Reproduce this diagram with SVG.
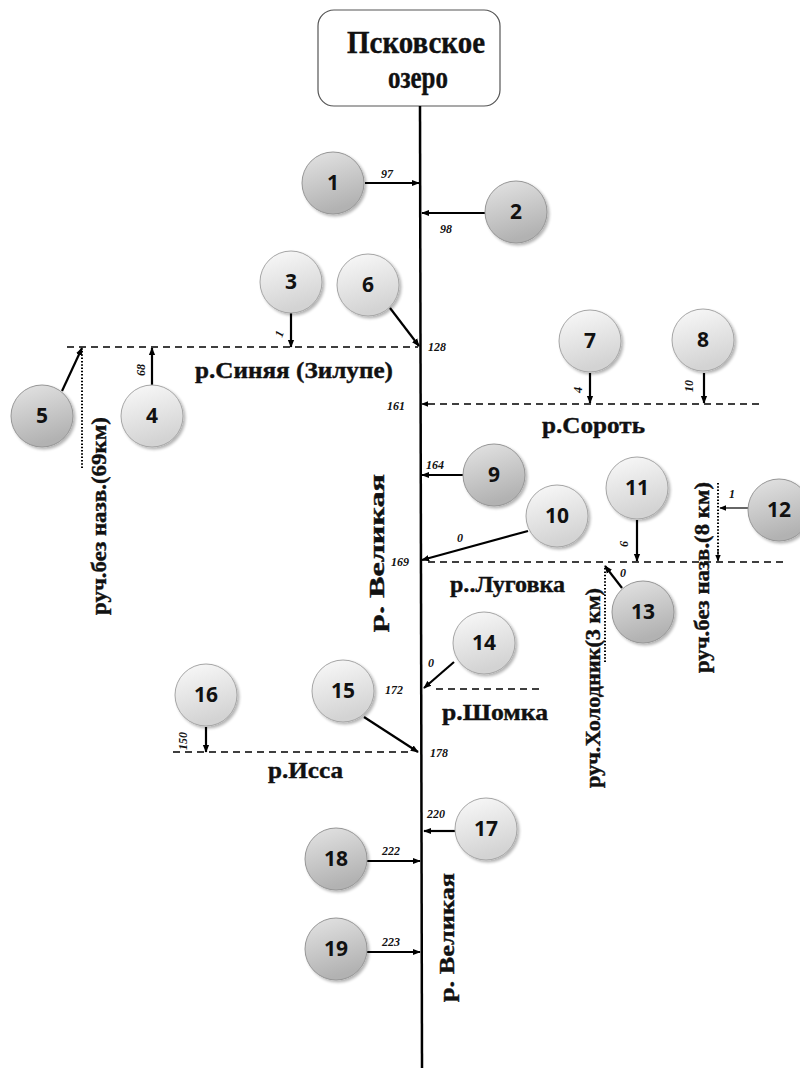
<svg xmlns="http://www.w3.org/2000/svg" width="800" height="1068" viewBox="0 0 800 1068">
  <defs>
    <linearGradient id="gLight" x1="0" y1="0" x2="0.3" y2="1">
      <stop offset="0" stop-color="#fafafa"/>
      <stop offset="1" stop-color="#d3d3d3"/>
    </linearGradient>
    <linearGradient id="gDark" x1="0" y1="0" x2="0.3" y2="1">
      <stop offset="0" stop-color="#e4e4e4"/>
      <stop offset="1" stop-color="#b2b2b2"/>
    </linearGradient>
    <filter id="shadow" x="-20%" y="-20%" width="150%" height="150%">
      <feGaussianBlur in="SourceAlpha" stdDeviation="1.5"/>
      <feOffset dx="1.5" dy="2" result="b"/>
      <feComponentTransfer><feFuncA type="linear" slope="0.3"/></feComponentTransfer>
      <feMerge><feMergeNode/><feMergeNode in="SourceGraphic"/></feMerge>
    </filter>
    <marker id="ah" viewBox="0 0 10 10" refX="9" refY="5" markerWidth="8" markerHeight="8" markerUnits="userSpaceOnUse" orient="auto">
      <path d="M0,1 L10,5 L0,9 Z" fill="#000"/>
    </marker>
    <marker id="ahs" viewBox="0 0 10 10" refX="9" refY="5" markerWidth="7" markerHeight="7" markerUnits="userSpaceOnUse" orient="auto">
      <path d="M0,1 L10,5 L0,9 Z" fill="#000"/>
    </marker>
  </defs>
  <style>
    .river { stroke: #000; stroke-width: 2.5; fill: none; }
    .arrow { stroke: #000; stroke-width: 2.2; fill: none; marker-end: url(#ah); }
    .thin { stroke: #000; stroke-width: 1.2; fill: none; marker-end: url(#ahs); }
    .dash { stroke: #000; stroke-width: 1.6; fill: none; stroke-dasharray: 7 5; }
    .dot { stroke: #000; stroke-width: 2; fill: none; stroke-dasharray: 1.5 1.8; }
    .light { fill: url(#gLight); stroke: #a5a5a5; stroke-width: 1; filter: url(#shadow); }
    .dark { fill: url(#gDark); stroke: #969696; stroke-width: 1; filter: url(#shadow); }
    .num { font-family: "Open Sans", "Liberation Sans", sans-serif; font-weight: 700; font-size: 21px; fill: #111; text-anchor: middle; }
    .km { font-family: "Liberation Serif", "Times New Roman", serif; font-style: italic; font-weight: 700; font-size: 12px; fill: #111; }
    .name { font-family: "Liberation Serif", "Times New Roman", serif; font-weight: 700; font-size: 24px; fill: #111; stroke: #111; stroke-width: 0.4; }
    .vname { font-family: "Liberation Serif", "Times New Roman", serif; font-weight: 700; font-size: 21px; fill: #111; stroke: #111; stroke-width: 0.4; }
    .title { font-family: "Liberation Serif", "Times New Roman", serif; font-weight: 700; font-size: 32px; fill: #111; stroke: #111; stroke-width: 0.4; }
  </style>

  <!-- lake at the mouth -->
  <g id="lake">
    <rect x="318" y="10" width="182" height="96" rx="16" fill="#fff" stroke="#555" stroke-width="1.2"/>
    <text class="title" x="347" y="53" textLength="138" lengthAdjust="spacingAndGlyphs">Псковское</text>
    <text class="title" x="388" y="88" textLength="60" lengthAdjust="spacingAndGlyphs">озеро</text>
  </g>

  <g id="connectors">
    <!-- main channel -->
    <line class="river" x1="420" y1="106" x2="422" y2="1068"/>
    <!-- tributary channels -->
    <line class="dash" x1="67" y1="347" x2="418" y2="347"/>
    <line class="dash" x1="428" y1="404" x2="762" y2="404"/>
    <line class="dash" x1="428" y1="562" x2="787" y2="562"/>
    <line class="dash" x1="436" y1="689" x2="543" y2="689"/>
    <line class="dash" x1="173" y1="752" x2="412" y2="752"/>
    <!-- streams -->
    <line class="dot" x1="82" y1="468" x2="82" y2="349"/>
    <line class="dot" x1="718" y1="483" x2="718" y2="560"/>
    <line class="dot" x1="605" y1="662" x2="605" y2="568"/>
    <!-- inflow arrows -->
    <line class="arrow" x1="365" y1="183" x2="419" y2="183"/>
    <line class="arrow" x1="485" y1="213" x2="422" y2="213"/>
    <line class="arrow" x1="291" y1="313" x2="291" y2="347"/>
    <line class="arrow" x1="390" y1="308" x2="419" y2="346"/>
    <line class="arrow" x1="152" y1="385" x2="152" y2="348"/>
    <line class="arrow" x1="62" y1="391" x2="82" y2="348"/>
    <line class="thin" x1="428" y1="404" x2="422" y2="404"/>
    <line class="arrow" x1="590" y1="373" x2="590" y2="403"/>
    <line class="arrow" x1="704" y1="373" x2="704" y2="403"/>
    <line class="arrow" x1="463" y1="475" x2="422" y2="475"/>
    <line class="arrow" x1="528" y1="531" x2="422" y2="560"/>
    <line class="arrow" x1="637" y1="520" x2="637" y2="561"/>
    <line class="thin" x1="748" y1="508" x2="720" y2="508"/>
    <line class="thin" x1="718" y1="550" x2="718" y2="561"/>
    <line class="arrow" x1="622" y1="588" x2="605" y2="566"/>
    <line class="arrow" x1="454" y1="662" x2="424" y2="688"/>
    <line class="arrow" x1="364" y1="717" x2="418" y2="752"/>
    <line class="arrow" x1="206" y1="727" x2="206" y2="752"/>
    <line class="arrow" x1="455" y1="831" x2="424" y2="831"/>
    <line class="arrow" x1="367" y1="861" x2="420" y2="861"/>
    <line class="arrow" x1="367" y1="952" x2="420" y2="952"/>
  </g>

  <!-- distances along the channels, km -->
  <g id="distances">
    <text class="km" x="381" y="178">97</text>
    <text class="km" x="440" y="233">98</text>
    <text class="km" x="428" y="351">128</text>
    <text class="km" x="387" y="410">161</text>
    <text class="km" x="426" y="469">164</text>
    <text class="km" x="391" y="566">169</text>
    <text class="km" x="385" y="694">172</text>
    <text class="km" x="430" y="757">178</text>
    <text class="km" x="427" y="818">220</text>
    <text class="km" x="382" y="855">222</text>
    <text class="km" x="382" y="946">223</text>
    <text class="km" x="457" y="542">0</text>
    <text class="km" x="428" y="667">0</text>
    <text class="km" x="620" y="577">0</text>
    <text class="km" x="729" y="498">1</text>
    <text class="km" transform="translate(282,338) rotate(-70)">1</text>
    <text class="km" transform="translate(145,376) rotate(-90)">68</text>
    <text class="km" transform="translate(582,393) rotate(-90)">4</text>
    <text class="km" transform="translate(693,392) rotate(-90)">10</text>
    <text class="km" transform="translate(628,547) rotate(-90)">6</text>
    <text class="km" transform="translate(187,750) rotate(-90)">150</text>
  </g>

  <!-- river and stream names -->
  <g id="names">
    <text class="name" x="195" y="378" textLength="198" lengthAdjust="spacingAndGlyphs">р.Синяя (Зилупе)</text>
    <text class="name" x="542" y="433" textLength="103" lengthAdjust="spacingAndGlyphs">р.Сороть</text>
    <text class="name" x="450" y="592" textLength="115" lengthAdjust="spacingAndGlyphs">р..Луговка</text>
    <text class="name" x="442" y="720" textLength="106" lengthAdjust="spacingAndGlyphs">р.Шомка</text>
    <text class="name" x="268" y="778" textLength="75" lengthAdjust="spacingAndGlyphs">р.Исса</text>
    <text class="vname" transform="translate(384,632) rotate(-90)" font-size="23" textLength="158" lengthAdjust="spacingAndGlyphs">р. Великая</text>
    <text class="vname" transform="translate(454,1002) rotate(-90)" textLength="129" lengthAdjust="spacingAndGlyphs">р. Великая</text>
    <text class="vname" transform="translate(106,615) rotate(-90)" textLength="198" lengthAdjust="spacingAndGlyphs">руч.без назв.(69км)</text>
    <text class="vname" transform="translate(709,673) rotate(-90)" textLength="191" lengthAdjust="spacingAndGlyphs">руч.без назв.(8 км)</text>
    <text class="vname" transform="translate(600,788) rotate(-90)" textLength="200" lengthAdjust="spacingAndGlyphs">руч.Холодник(3 км)</text>
  </g>

  <!-- tributary nodes -->
  <g id="n1"><circle class="dark" cx="333" cy="183" r="31"/><text class="num" x="333" y="190">1</text></g>
  <g id="n2"><circle class="dark" cx="516" cy="212" r="31"/><text class="num" x="516" y="219">2</text></g>
  <g id="n3"><circle class="light" cx="291" cy="282" r="31"/><text class="num" x="291" y="289">3</text></g>
  <g id="n4"><circle class="light" cx="152" cy="416" r="31"/><text class="num" x="152" y="423">4</text></g>
  <g id="n5"><circle class="dark" cx="42" cy="416" r="31"/><text class="num" x="42" y="423">5</text></g>
  <g id="n6"><circle class="light" cx="368" cy="285" r="31"/><text class="num" x="368" y="292">6</text></g>
  <g id="n7"><circle class="light" cx="590" cy="341" r="31"/><text class="num" x="590" y="348">7</text></g>
  <g id="n8"><circle class="light" cx="703" cy="340" r="31"/><text class="num" x="703" y="347">8</text></g>
  <g id="n9"><circle class="dark" cx="494" cy="475" r="31"/><text class="num" x="494" y="482">9</text></g>
  <g id="n10"><circle class="light" cx="557" cy="516" r="31"/><text class="num" x="557" y="523">10</text></g>
  <g id="n11"><circle class="light" cx="637" cy="488" r="31"/><text class="num" x="637" y="495">11</text></g>
  <g id="n12"><circle class="dark" cx="779" cy="510" r="31"/><text class="num" x="779" y="517">12</text></g>
  <g id="n13"><circle class="dark" cx="643" cy="612" r="31"/><text class="num" x="643" y="619">13</text></g>
  <g id="n14"><circle class="light" cx="484" cy="643" r="31"/><text class="num" x="484" y="650">14</text></g>
  <g id="n15"><circle class="light" cx="343" cy="691" r="31"/><text class="num" x="343" y="698">15</text></g>
  <g id="n16"><circle class="light" cx="206" cy="695" r="31"/><text class="num" x="206" y="702">16</text></g>
  <g id="n17"><circle class="light" cx="486" cy="829" r="31"/><text class="num" x="486" y="836">17</text></g>
  <g id="n18"><circle class="dark" cx="336" cy="859" r="31"/><text class="num" x="336" y="866">18</text></g>
  <g id="n19"><circle class="dark" cx="336" cy="949" r="31"/><text class="num" x="336" y="956">19</text></g>
</svg>
